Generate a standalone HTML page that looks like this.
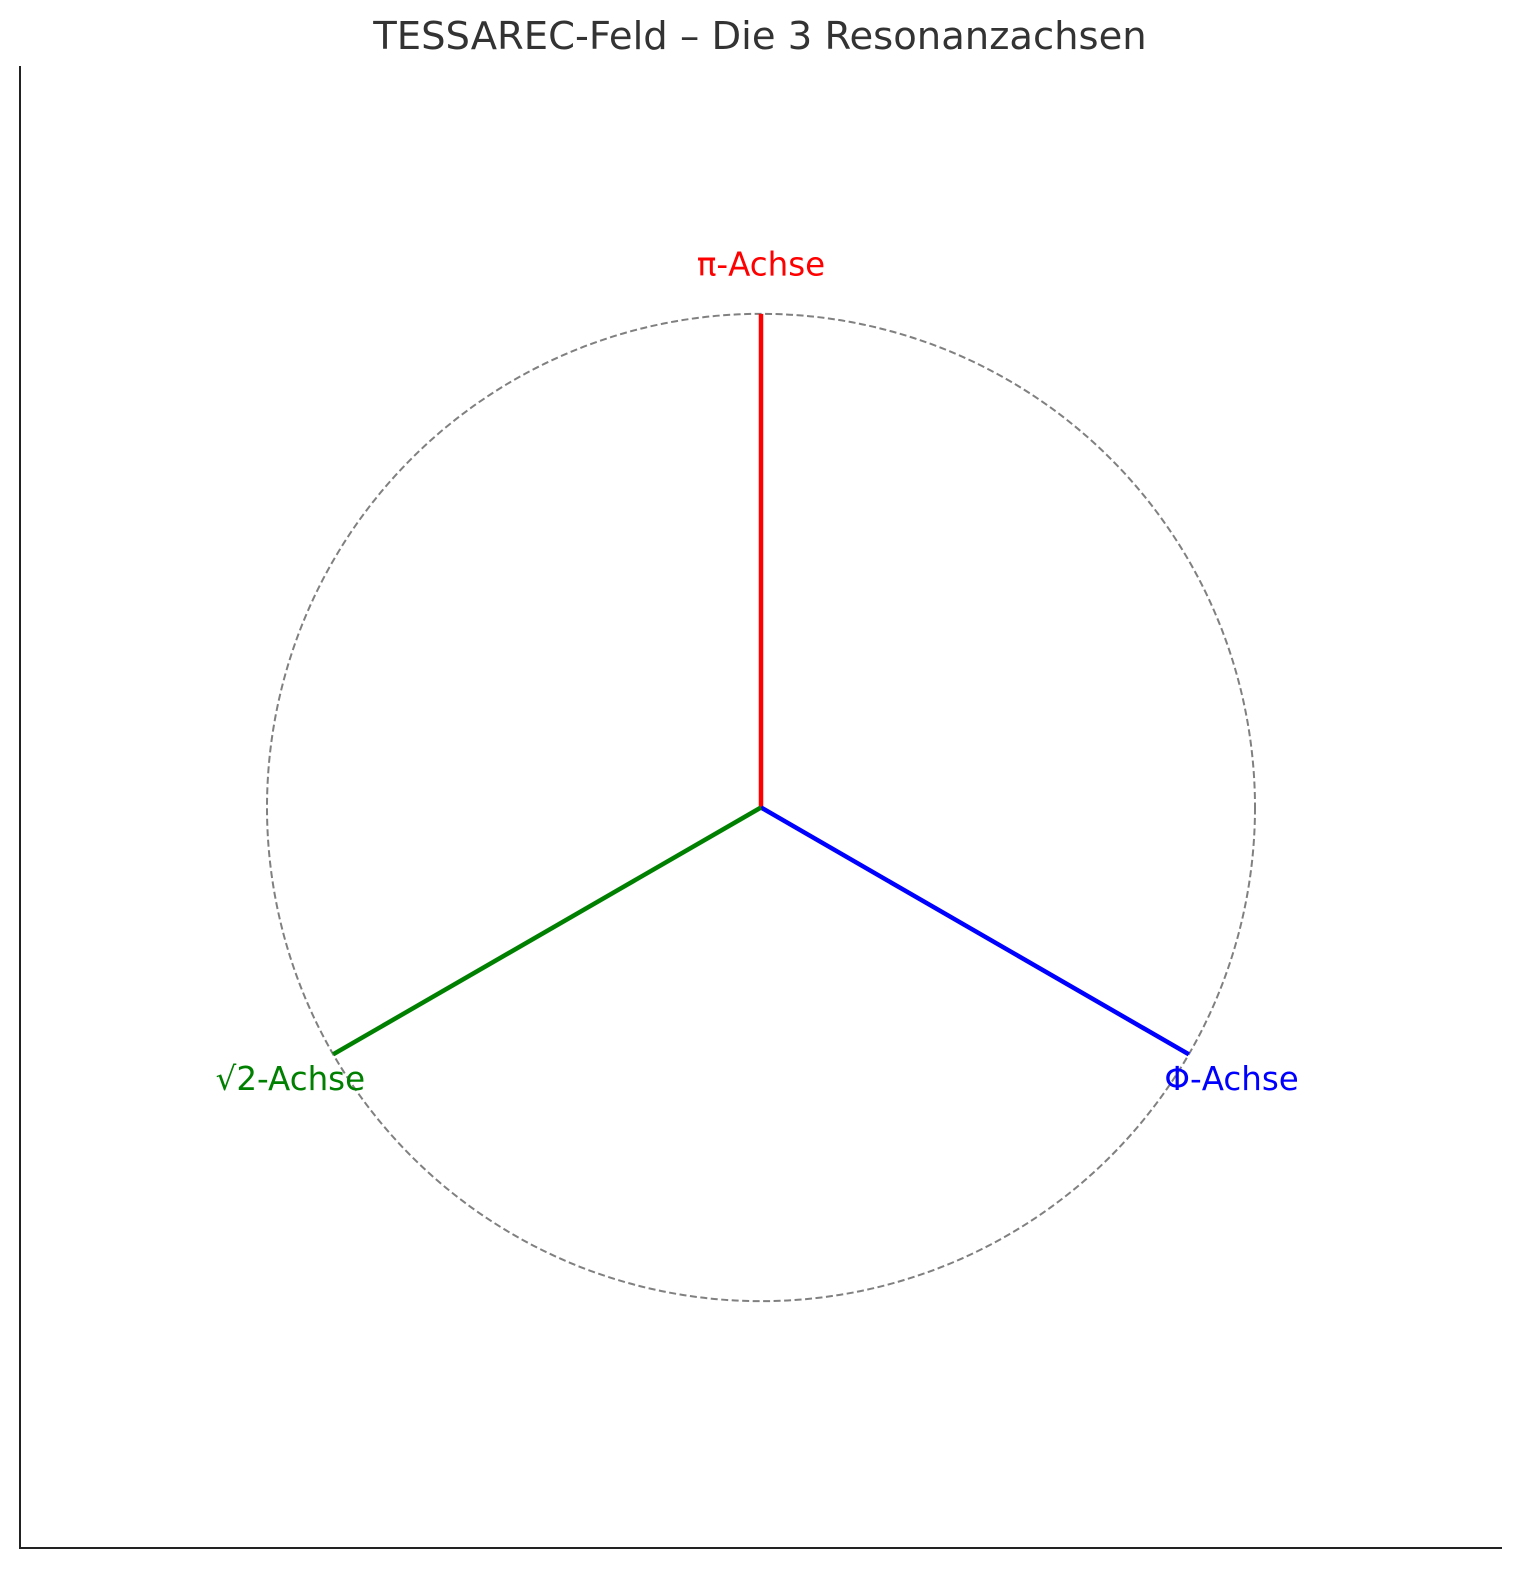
<!DOCTYPE html>
<html><head><meta charset="utf-8"><style>
html,body{margin:0;padding:0;background:#fff;overflow:hidden;width:1533px;height:1580px;}
svg{display:block;}
svg text{font-family:"DejaVu Sans","Liberation Sans",sans-serif;}
</style></head><body>
<svg id="chart" width="1533" height="1580" viewBox="0 0 1533 1580" xmlns="http://www.w3.org/2000/svg">
<rect width="1533" height="1580" fill="#fff"/>
<text x="760" y="49" text-anchor="middle" font-size="38.5" fill="#333">TESSAREC-Feld – Die 3 Resonanzachsen</text>
<line x1="20" y1="66" x2="20" y2="1549" stroke="#222" stroke-width="2"/>
<line x1="19" y1="1548" x2="1502" y2="1548" stroke="#222" stroke-width="2"/>
<g id="marks"></g>
</svg>
<script>
const axisNames = ["π-Achse", "Φ-Achse", "√2-Achse"];
const axisAngles = [90, -30, 210];
const axisLengths = [1, 1, 1];
const axisColors = ["#ff0000", "#0000ff", "#008000"];
const circleRadius = [1];
const labelRadius = 1.1;

const X0 = 20, X1 = 1502, Y0 = 1548, Y1 = 67;
const xmin = -1.5, xmax = 1.5, ymin = -1.5, ymax = 1.5;
function sx(v){ return X0 + (v - xmin) / (xmax - xmin) * (X1 - X0); }
function sy(v){ return Y0 - (v - ymin) / (ymax - ymin) * (Y0 - Y1); }
const NS = "http://www.w3.org/2000/svg";
const g = document.getElementById("marks");

const c = document.createElementNS(NS, "ellipse");


c.setAttribute("cx", sx(0)); c.setAttribute("cy", sy(0));
c.setAttribute("rx", sx(circleRadius[0]) - sx(0)); c.setAttribute("ry", sy(0) - sy(circleRadius[0]));
c.setAttribute("fill", "none"); c.setAttribute("stroke", "#808080");
c.setAttribute("stroke-width", "2"); c.setAttribute("stroke-dasharray", "7,3.5");
g.appendChild(c);

axisNames.forEach((name, i) => {
  const a = axisAngles[i] * Math.PI / 180;
  const l = document.createElementNS(NS, "line");
  
  
  l.setAttribute("x1", sx(0)); l.setAttribute("y1", sy(0));
  l.setAttribute("x2", sx(axisLengths[i] * Math.cos(a)));
  l.setAttribute("y2", sy(axisLengths[i] * Math.sin(a)));
  l.setAttribute("stroke", axisColors[i]); l.setAttribute("stroke-width", "4.5");
  g.appendChild(l);
  const t = document.createElementNS(NS, "text");
  
  
  t.setAttribute("x", sx(labelRadius * Math.cos(a)));
  t.setAttribute("y", sy(labelRadius * Math.sin(a)));
  t.setAttribute("text-anchor", "middle");
  t.setAttribute("dominant-baseline", "central");
  t.setAttribute("font-size", "32.5");
  t.setAttribute("fill", axisColors[i]);
  t.textContent = name;
  g.appendChild(t);
});
</script>
</body></html>
